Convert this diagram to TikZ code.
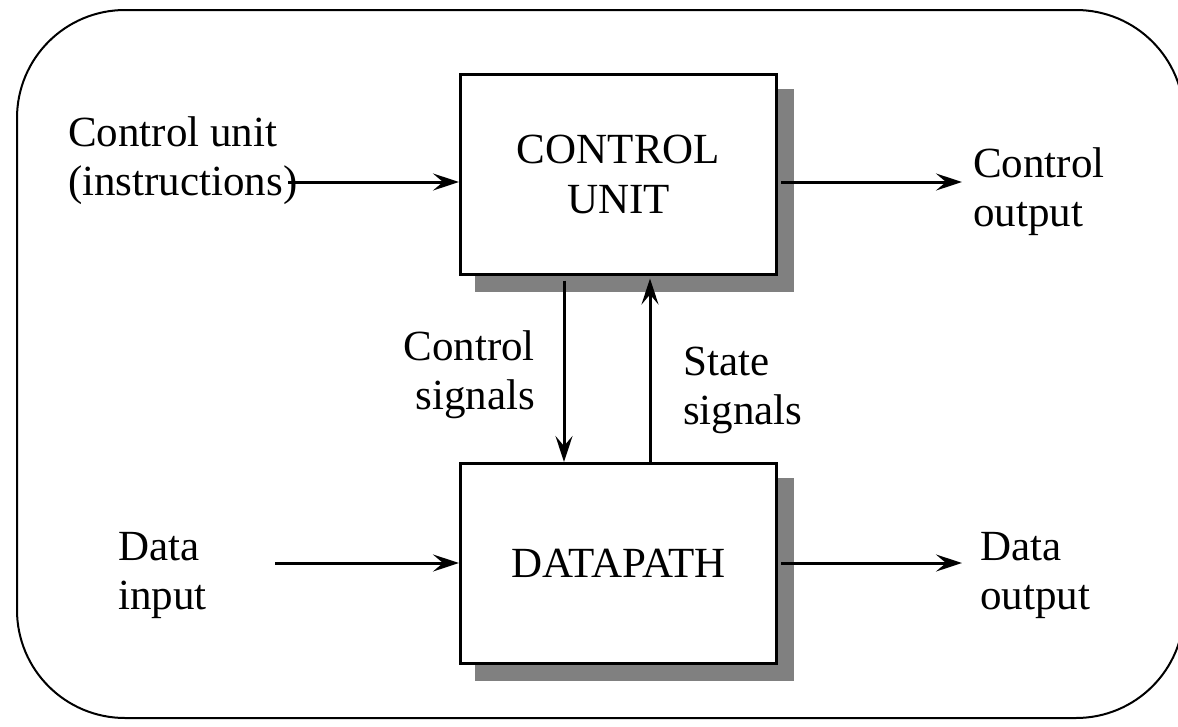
\documentclass[tikz,border=0pt]{standalone}
\usepackage{fontspec}
\setmainfont{Liberation Serif}
\usetikzlibrary{arrows.meta,backgrounds}

\begin{document}
\begin{tikzpicture}[x=1pt,y=-1pt,
  lbl/.style={inner sep=0pt, font=\fontsize{43}{49}\selectfont},
  block/.style={draw, line width=3pt, fill=white, minimum width=316pt,
    minimum height=200pt, inner sep=0pt, align=center,
    font=\fontsize{43}{50}\selectfont},
  shade/.style={fill=black!50},
  flow/.style={line width=3pt, -{Stealth[length=26pt,width=17pt,inset=10pt]}}]

\useasboundingbox (0,0) rectangle (1178,726);

% outer frame, running off the right edge
\begin{scope}
  \clip (0,0) rectangle (1178,726);
  \draw[line width=2pt, rounded corners=108pt] (17,10) rectangle (1184,718);
\end{scope}

% the two blocks
\node[block] (cu) at (618.5,174) {CONTROL\\UNIT};
\node[block] (dp) at (618.5,563.5) {DATAPATH};

% drop shadows behind the blocks
\begin{scope}[on background layer]
  \fill[shade] ([shift={(16,16)}]cu.south west) rectangle ([shift={(16,16)}]cu.north east);
  \fill[shade] ([shift={(16,16)}]dp.south west) rectangle ([shift={(16,16)}]dp.north east);
\end{scope}

% labels
\node[lbl, anchor=north west, align=left] (cuin) at (68,116) {Control unit\\(instructions)};
\node[lbl, anchor=north west, align=left] (cuout) at (973,147) {Control\\output};
\node[lbl, anchor=north west, align=left] (din) at (118,532) {Data\\input};
\node[lbl, anchor=north west, align=left] (dout) at (980,532) {Data\\output};
\node[lbl, anchor=north east, align=right] (csig) at (535,330) {Control\\signals};
\node[lbl, anchor=north west, align=left] (ssig) at (683,347) {State\\signals};

% free ends of the outer connectors
\coordinate (cuinstart) at (288,182);
\coordinate (cuoutend) at (962,182);
\coordinate (dinstart) at (275,563);
\coordinate (doutend) at (962,563);

% connectors
\draw[flow] (cuinstart) -- (cu.west |- cuinstart);
\draw[flow, shorten <=3pt] (cu.east |- cuoutend) -- (cuoutend);
\draw[flow] (dinstart) -- (dp.west |- dinstart);
\draw[flow, shorten <=3pt] (dp.east |- doutend) -- (doutend);
\draw[flow, shorten <=5pt] ([xshift=-54.5pt]cu.south) -- ([xshift=-54.5pt]dp.north);
\draw[flow, shorten >=3pt] ([xshift=31.5pt]dp.north) -- ([xshift=31.5pt]cu.south);

\end{tikzpicture}
\end{document}
